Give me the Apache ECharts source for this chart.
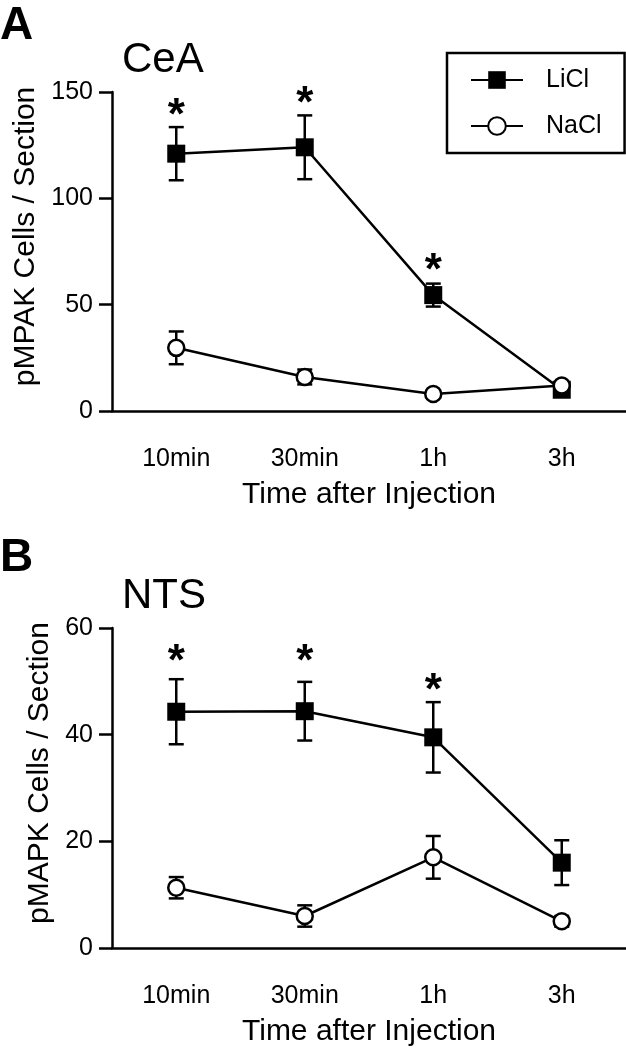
<!DOCTYPE html>
<html><head><meta charset="utf-8">
<script src="https://cdn.jsdelivr.net/npm/echarts@6/dist/echarts.min.js"></script>
<style>html,body{margin:0;padding:0;background:#fff}#c{width:626px;height:1050px}</style>
</head><body><div id="c"></div>
<script>
// ---- data ----
const categories = ['10min', '30min', '1h', '3h'];
const yTicksA = [0, 50, 100, 150];
const yTicksB = [0, 20, 40, 60];
const seriesNames = ['LiCl', 'NaCl'];
// Panel A (CeA)
const liclA = [121, 124, 54.5, 10];
const liclErrA = [12.5, 15, 5.4, 2];
const naclA = [29.7, 16, 8, 12];
const naclErrA = [7.7, 3.5, 1.5, 1];
const starA = [143, 148.6, 70, null];
// Panel B (NTS)
const liclB = [44.3, 44.4, 39.5, 16];
const liclErrB = [6.1, 5.5, 6.6, 4.2];
const naclB = [11.3, 6, 17, 5];
const naclErrB = [2, 2, 4, 1];
const starB = [55.3, 55.3, 49.9, null];

const F = "'Liberation Sans', Arial, Helvetica, sans-serif";
const LW = 2.5;
const chart = echarts.init(document.getElementById('c'), null, {renderer: 'canvas'});

function errData(mean, err) {
  return mean.map((m, i) => [i, m - err[i], m + err[i]]);
}
function starData(arr) {
  const out = [];
  arr.forEach((v, i) => { if (v !== null) out.push([i, v]); });
  return out;
}
function errRender(params, api) {
  const x = api.value(0), lo = api.value(1), hi = api.value(2);
  const pT = api.coord([x, hi]), pB = api.coord([x, lo]);
  const hw = 7.5;
  const st = {stroke: '#000', lineWidth: LW};
  return {type: 'group', children: [
    {type: 'line', shape: {x1: pT[0], y1: pT[1], x2: pB[0], y2: pB[1]}, style: st},
    {type: 'line', shape: {x1: pT[0] - hw, y1: pT[1], x2: pT[0] + hw, y2: pT[1]}, style: st},
    {type: 'line', shape: {x1: pB[0] - hw, y1: pB[1], x2: pB[0] + hw, y2: pB[1]}, style: st}
  ]};
}
function starRender(params, api) {
  const p = api.coord([api.value(0), api.value(1)]);
  return {type: 'text', x: p[0], y: p[1] + 10,
    style: {text: '*', fontSize: 44, fontWeight: 'bold', fontFamily: F, fill: '#000', align: 'center', verticalAlign: 'middle'}};
}
function xAxis(gi) {
  return {type: 'category', gridIndex: gi, data: categories, boundaryGap: true,
    axisLine: {lineStyle: {color: '#000', width: LW}},
    axisTick: {alignWithLabel: true, length: 12, lineStyle: {width: LW, color: '#000'}},
    axisLabel: {fontSize: 25, color: '#000', margin: 36, fontFamily: F},
    name: 'Time after Injection', nameLocation: 'middle', nameGap: 69,
    nameTextStyle: {fontSize: 30, color: '#000', fontFamily: F}};
}
function yAxis(gi, ticks, name) {
  return {type: 'value', gridIndex: gi, min: ticks[0], max: ticks[ticks.length - 1], interval: ticks[1] - ticks[0],
    axisLine: {show: true, lineStyle: {color: '#000', width: LW}},
    axisTick: {show: true, length: 13, lineStyle: {width: LW, color: '#000'}},
    axisLabel: {fontSize: 25, color: '#000', margin: 19, fontFamily: F},
    splitLine: {show: false},
    name: name, nameLocation: 'middle', nameGap: 41,
    nameTextStyle: {fontSize: 30, color: '#000', fontFamily: F, padding: [0, 0, 0, 30]}};
}
function panelSeries(gi, licl, liclErr, nacl, naclErr, stars) {
  return [
    {type: 'custom', name: 'errLiCl' + gi, xAxisIndex: gi, yAxisIndex: gi, z: 1, renderItem: errRender, data: errData(licl, liclErr), silent: true},
    {type: 'custom', name: 'errNaCl' + gi, xAxisIndex: gi, yAxisIndex: gi, z: 1, renderItem: errRender, data: errData(nacl, naclErr), silent: true},
    {type: 'line', name: seriesNames[0], xAxisIndex: gi, yAxisIndex: gi, z: 3, data: licl,
      symbol: 'rect', symbolSize: 18, showAllSymbol: true,
      itemStyle: {color: '#000', borderColor: '#000', borderWidth: 0},
      lineStyle: {color: '#000', width: LW}},
    {type: 'line', name: seriesNames[1], xAxisIndex: gi, yAxisIndex: gi, z: 4, data: nacl,
      symbol: 'circle', symbolSize: 16, showAllSymbol: true,
      itemStyle: {color: '#fff', borderColor: '#000', borderWidth: LW},
      lineStyle: {color: '#000', width: LW}},
    {type: 'custom', name: 'stars' + gi, xAxisIndex: gi, yAxisIndex: gi, z: 5, renderItem: starRender, data: starData(stars), silent: true}
  ];
}

const option = {
  animation: false,
  backgroundColor: '#fff',
  textStyle: {fontFamily: F},
  grid: [
    {left: 112, right: 0, top: 92, height: 319},
    {left: 112, right: 0, top: 628, height: 320}
  ],
  xAxis: [xAxis(0), xAxis(1)],
  yAxis: [yAxis(0, yTicksA, 'pMPAK Cells / Section'), yAxis(1, yTicksB, 'pMAPK Cells / Section')],
  legend: {
    data: seriesNames, orient: 'vertical', left: 447, top: 53,
    itemWidth: 52, itemHeight: 22, itemGap: 16,
    padding: [12, 23, 12, 23],
    borderColor: '#000', borderWidth: LW, borderRadius: 0,
    textStyle: {fontSize: 25, color: '#000', fontFamily: F, lineHeight: 30, padding: [0, 0, 0, 18]},
    selectedMode: false
  },
  graphic: [
    {type: 'text', x: 0, y: 26, style: {text: 'A', fontSize: 46, fontWeight: 'bold', fontFamily: F, fill: '#000', align: 'left', verticalAlign: 'middle'}},
    {type: 'text', x: 122, y: 60, style: {text: 'CeA', fontSize: 42, fontFamily: F, fill: '#000', align: 'left', verticalAlign: 'middle'}},
    {type: 'text', x: 0, y: 558, style: {text: 'B', fontSize: 46, fontWeight: 'bold', fontFamily: F, fill: '#000', align: 'left', verticalAlign: 'middle'}},
    {type: 'text', x: 122, y: 596, style: {text: 'NTS', fontSize: 42, fontFamily: F, fill: '#000', align: 'left', verticalAlign: 'middle'}}
  ],
  series: [].concat(
    panelSeries(0, liclA, liclErrA, naclA, naclErrA, starA),
    panelSeries(1, liclB, liclErrB, naclB, naclErrB, starB)
  )
};
chart.setOption(option);
</script>
</body></html>
